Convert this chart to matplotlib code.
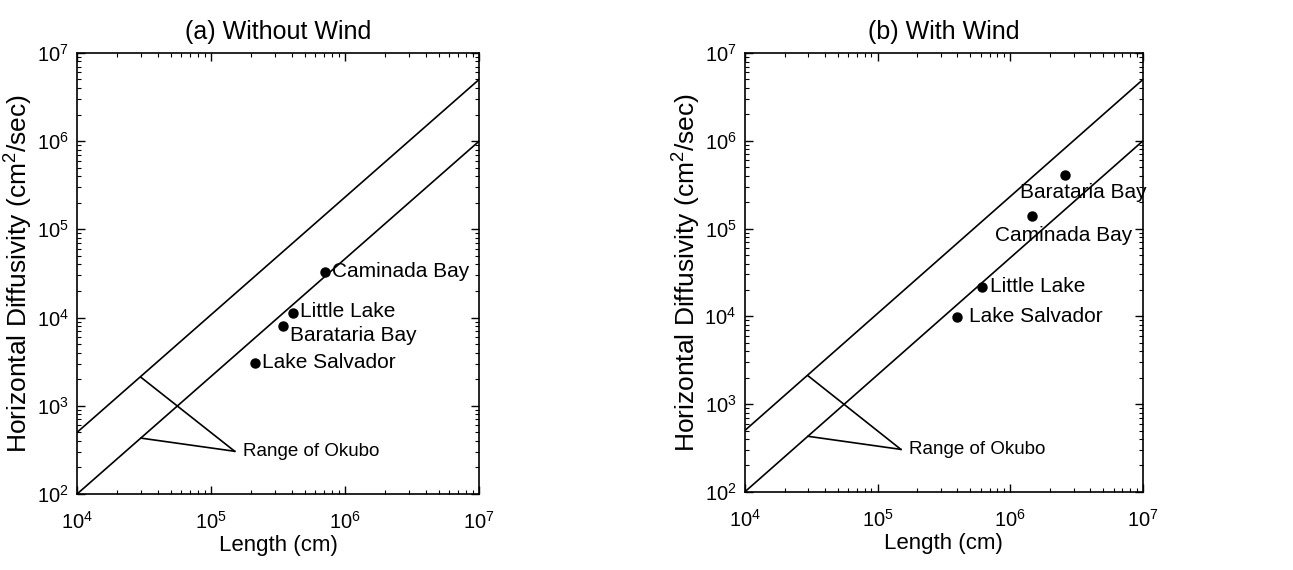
import matplotlib
matplotlib.use("Agg")
from matplotlib import pyplot as plt

plt.rcParams['font.family'] = ['Liberation Sans', 'DejaVu Sans']
plt.rcParams['mathtext.fontset'] = 'custom'
plt.rcParams['mathtext.rm'] = 'Liberation Sans'

# Okubo 4/3 law bounds (end points of the two lines)
line_x = [1e4, 1e7]
upper_y = [5e2, 5e6]
lower_y = [1e2, 1e6]

# "Range of Okubo" leader lines
okubo_start_x = 3e4
okubo_start_y = [2.1e3, 4.3e2]
okubo_tip = (1.5e5, 305)

titles = ["(a) Without Wind", "(b) With Wind"]
names = ["Caminada Bay", "Little Lake", "Barataria Bay", "Lake Salvador"]
length_a = [7.1e5, 4.1e5, 3.46e5, 2.14e5]
diff_a = [3.3e4, 1.12e4, 8.1e3, 3.08e3]
length_b = [1.47e6, 6.08e5, 2.57e6, 4.0e5]
diff_b = [1.39e5, 2.18e4, 4.1e5, 9.9e3]

# label offsets in points
offs_a = [(5, 0), (5, 1), (5, -7), (5, 0)]
offs_b = [(-27, -14), (6, 0), (-32, -13), (8, 0)]

fig = plt.figure(figsize=(12.93, 5.7), dpi=100)
ax_a = fig.add_axes([0.0596, 0.1333, 0.311, 0.774])
ax_b = fig.add_axes([0.576, 0.137, 0.308, 0.770])

for ax, title, xs, ys, offs in [(ax_a, titles[0], length_a, diff_a, offs_a),
                                (ax_b, titles[1], length_b, diff_b, offs_b)]:
    ax.plot(line_x, upper_y, color="black", lw=1.2)
    ax.plot(line_x, lower_y, color="black", lw=1.2)
    for y0 in okubo_start_y:
        ax.plot([okubo_start_x, okubo_tip[0]], [y0, okubo_tip[1]], color="black", lw=1.2)
    ax.text(okubo_tip[0] * 1.15, okubo_tip[1], "Range of Okubo", fontsize=13.5,
            ha="left", va="center")
    ax.plot(xs, ys, "o", color="black", ms=6.5)
    for n, x, y, o in zip(names, xs, ys, offs):
        ax.annotate(n, (x, y), xytext=o, textcoords="offset points",
                    ha="left", va="center", fontsize=15)
    ax.set_xscale("log")
    ax.set_yscale("log")
    ax.set_xlim(1e4, 1e7)
    ax.set_ylim(1e2, 1e7)
    ax.set_title(title, fontsize=18, pad=10)
    ax.set_xlabel("Length (cm)", fontsize=16, labelpad=2)
    ax.set_ylabel("Horizontal Diffusivity (cm$^2$/sec)", fontsize=19, labelpad=2)
    ax.tick_params(which="both", direction="in", top=True, right=True, labelsize=14.5)
    ax.tick_params(axis="y", which="major", length=6, width=1, pad=6)
    ax.tick_params(axis="x", which="major", length=6, width=1, pad=12)
    ax.tick_params(which="minor", length=3, width=0.8)
    for s in ax.spines.values():
        s.set_linewidth(1.2)

fig.savefig("out.png", dpi=100)
